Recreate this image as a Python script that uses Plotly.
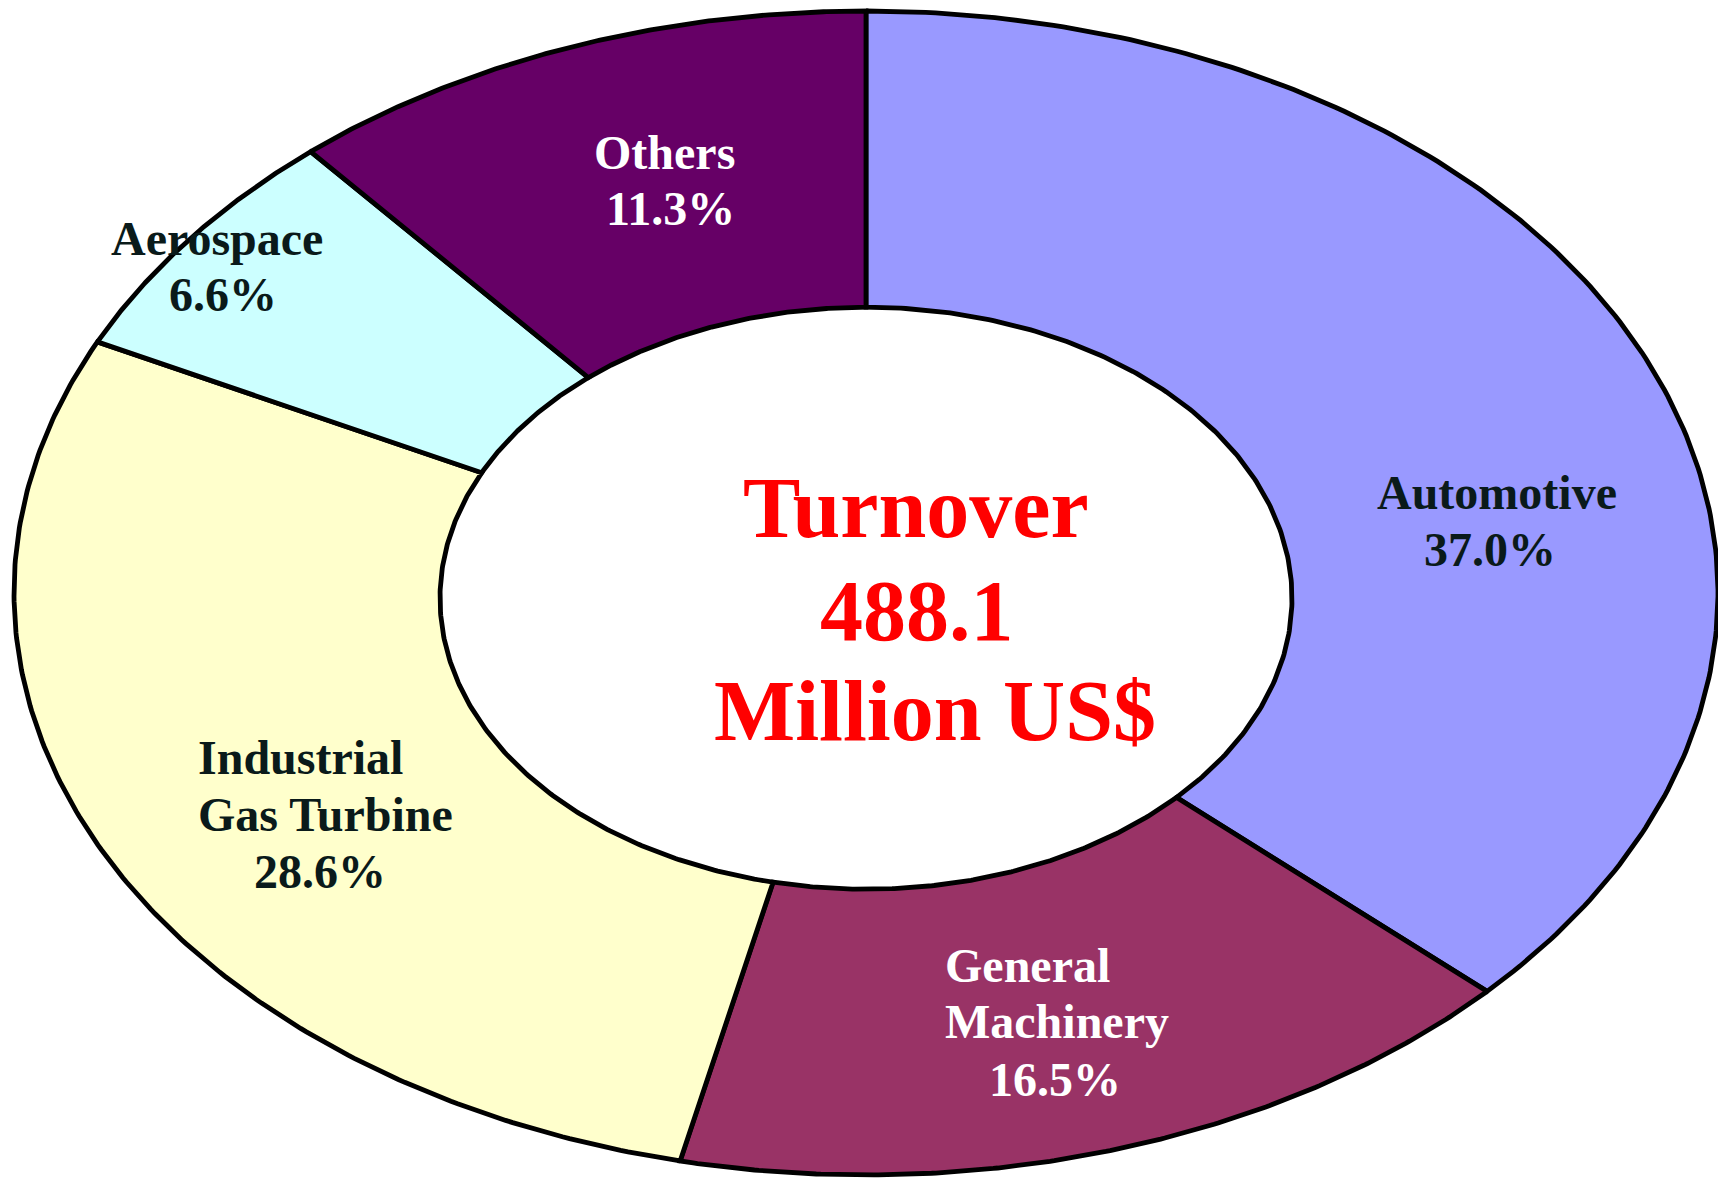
import numpy as np
import plotly.graph_objects as go

# ---- data ----
categories = ["Automotive", "General Machinery", "Industrial Gas Turbine", "Aerospace", "Others"]
shares = [37.0, 16.5, 28.6, 6.6, 11.3]
colors = ["#9999FF", "#993366", "#FFFFCC", "#CCFFFF", "#660066"]
total_turnover = 488.1
label_lines = {
    "Automotive": ["Automotive"],
    "General Machinery": ["General", "Machinery"],
    "Industrial Gas Turbine": ["Industrial", "Gas Turbine"],
    "Aerospace": ["Aerospace"],
    "Others": ["Others"],
}

# ---- layout / style ----
W, H = 1726, 1187
OFF = 8                    # page body margin offset (px)
CX, CY = 866 - OFF, 593 - OFF   # ellipse centre (px, figure coords)
RX, RY = 852, 582          # outer radii (px)
HOLE = 0.5
HOLE_DY = -0.009           # hole centre sits slightly lower
FONT = "Liberation Serif, Times New Roman, serif"
DARK = "#0a1a1a"
text_color = {"Automotive": DARK, "General Machinery": "white",
              "Industrial Gas Turbine": DARK, "Aerospace": DARK, "Others": "white"}
# label placement (window px): name lines x + anchor, first-line y, percent centre x
label_pos = {
    "Automotive": dict(nx=1497, nanchor="center", px=1490, y0=492),
    "General Machinery": dict(nx=943, nanchor="left", px=1055, y0=965),
    "Industrial Gas Turbine": dict(nx=196, nanchor="left", px=320, y0=757),
    "Aerospace": dict(nx=217, nanchor="center", px=223, y0=238),
    "Others": dict(nx=664, nanchor="center", px=670, y0=152),
}
LINE_GAP = 57
LABEL_SIZE = 48

fig = go.Figure()

tot = sum(shares)
start = 0.0
for cat, v, col in zip(categories, shares, colors):
    a0 = 2 * np.pi * start / tot
    a1 = 2 * np.pi * (start + v) / tot
    t = np.linspace(a0, a1, 200)
    xo, yo = np.sin(t), np.cos(t)
    xi, yi = HOLE * np.sin(t[::-1]), HOLE * np.cos(t[::-1]) + HOLE_DY
    xs = np.concatenate([xo, xi, xo[:1]])
    ys = np.concatenate([yo, yi, yo[:1]])
    fig.add_trace(go.Scatter(x=xs, y=ys, mode="lines", fill="toself",
                             fillcolor=col, line=dict(color="black", width=4.8),
                             hoverinfo="text", text=f"{cat}: {v:.1f}%",
                             showlegend=False))
    start += v

def px2paper(x, y):
    return (x - OFF) / W, 1 - (y - OFF) / H

annotations = []
for cat, v in zip(categories, shares):
    p = label_pos[cat]
    lines = label_lines[cat]
    for i, ln in enumerate(lines):
        x, y = px2paper(p["nx"], p["y0"] + i * LINE_GAP)
        annotations.append(dict(text=f"<b>{ln}</b>", x=x, y=y, xref="paper", yref="paper",
                                xanchor=p["nanchor"], yanchor="middle", showarrow=False,
                                font=dict(family=FONT, size=LABEL_SIZE, color=text_color[cat])))
    x, y = px2paper(p["px"], p["y0"] + len(lines) * LINE_GAP)
    annotations.append(dict(text=f"<b>{v:.1f}%</b>", x=x, y=y, xref="paper", yref="paper",
                            xanchor="center", yanchor="middle", showarrow=False,
                            font=dict(family=FONT, size=LABEL_SIZE, color=text_color[cat])))

center_lines = [("Turnover", 916, 508), (f"{total_turnover:.1f}", 917, 611), ("Million US$", 935, 711)]
for txt, x, y in center_lines:
    xp, yp = px2paper(x, y)
    annotations.append(dict(text=f"<b>{txt}</b>", x=xp, y=yp, xref="paper", yref="paper",
                            xanchor="center", yanchor="middle", showarrow=False,
                            font=dict(family=FONT, size=86, color="#FF0000")))

fig.update_layout(
    width=W, height=H,
    margin=dict(l=0, r=0, t=0, b=0),
    paper_bgcolor="white", plot_bgcolor="white",
    xaxis=dict(range=[-CX / RX, (W - CX) / RX], visible=False, fixedrange=True),
    yaxis=dict(range=[-(H - CY) / RY, CY / RY], visible=False, fixedrange=True),
    annotations=annotations,
    showlegend=False,
)

fig.write_html("out.html")
